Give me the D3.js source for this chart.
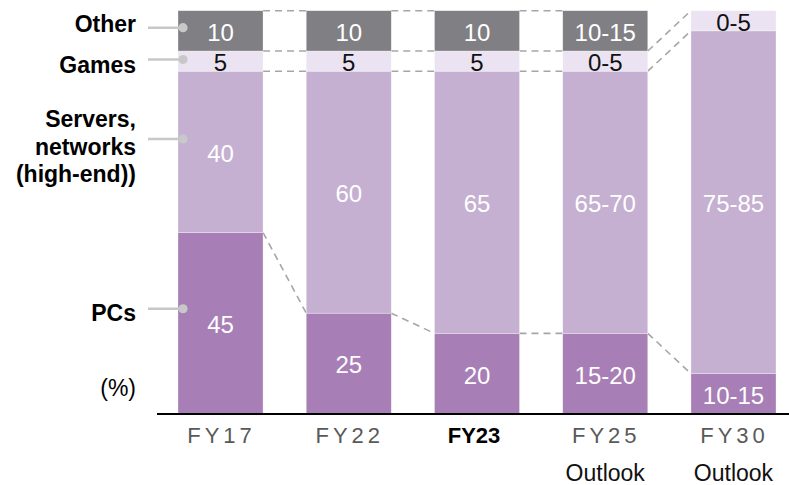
<!DOCTYPE html>
<html>
<head>
<meta charset="utf-8">
<script src="https://cdn.jsdelivr.net/npm/d3@7/dist/d3.min.js"></script>
<style>
  html, body { margin: 0; padding: 0; background: #fff; }
  svg { display: block; font-family: "Liberation Sans", Arial, Helvetica, sans-serif; }
</style>
</head>
<body>
<svg id="chart" width="789" height="485"></svg>
<script>
// ---- data ----
const categories = ["FY17", "FY22", "FY23", "FY25", "FY30"];
const subLabels = ["", "", "", "Outlook", "Outlook"];
const seriesNames = ["PCs", "Servers", "Games", "Other"];
const pcsValues = [45, 25, 20, 20, 10];
const serversValues = [40, 60, 65, 65, 85];
const gamesValues = [5, 5, 5, 5, 5];
const otherValues = [10, 10, 10, 10, 0];
const pcsLabels = ["45", "25", "20", "15-20", "10-15"];
const serversLabels = ["40", "60", "65", "65-70", "75-85"];
const gamesLabels = ["5", "5", "5", "0-5", "0-5"];
const otherLabels = ["10", "10", "10", "10-15", ""];
const legendLabels = [["PCs"], ["Servers,", "networks", "(high-end))"], ["Games"], ["Other"]];
const unitLabel = "(%)";
const highlightCategory = "FY23";

// ---- setup ----
const svg = d3.select("#chart");
const W = 789, H = 485;
const baseY = 414, topY = 10.7;
const colors = { PCs: "#a77eb5", Servers: "#c5b0d2", Games: "#ebe3f1", Other: "#808084" };
const textColors = { PCs: "#fff", Servers: "#fff", Games: "#111", Other: "#fff" };

const valuesBy = { PCs: pcsValues, Servers: serversValues, Games: gamesValues, Other: otherValues };
const labelsBy = { PCs: pcsLabels, Servers: serversLabels, Games: gamesLabels, Other: otherLabels };

const rows = categories.map((c, i) => {
  const r = { cat: c };
  seriesNames.forEach(s => r[s] = valuesBy[s][i]);
  return r;
});
const stacked = d3.stack().keys(seriesNames)(rows);

const x = d3.scaleBand().domain(categories).range([178, 776]).paddingInner(0.337).paddingOuter(0);
const y = d3.scaleLinear().domain([0, 100]).range([baseY, topY]);
const bw = x.bandwidth();

// ---- connectors ----
const conn = svg.append("g");
stacked.forEach(layer => {
  const key = layer.key;
  for (let i = 0; i < categories.length - 1; i++) {
    const a = layer[i], b = layer[i + 1];
    if (valuesBy[key][i] <= 0 || valuesBy[key][i + 1] <= 0) continue;
    conn.append("line")
      .attr("x1", x(categories[i]) + bw)
      .attr("y1", y(a[1]))
      .attr("x2", x(categories[i + 1]))
      .attr("y2", y(b[1]))
      .attr("stroke", "#a6a6a6")
      .attr("stroke-width", 1.6)
      .attr("stroke-dasharray", "7,5");
  }
});

// ---- bars ----
const gBars = svg.append("g");
stacked.forEach(layer => {
  const key = layer.key;
  gBars.selectAll(null)
    .data(layer.filter((d, i) => valuesBy[key][i] > 0))
    .join("rect")
    .attr("x", d => x(d.data.cat))
    .attr("y", d => y(d[1]))
    .attr("width", bw)
    .attr("height", d => y(d[0]) - y(d[1]))
    .attr("fill", colors[key])
    .attr("stroke", "#ffffff")
    .attr("stroke-opacity", 0.5)
    .attr("stroke-width", 0.6);
});

// ---- value labels ----
stacked.forEach(layer => {
  const key = layer.key;
  layer.forEach((d, i) => {
    const lab = labelsBy[key][i];
    if (!lab) return;
    svg.append("text")
      .attr("x", x(d.data.cat) + bw / 2)
      .attr("y", (y(d[0]) + y(d[1])) / 2 + 1.5)
      .attr("dy", "0.35em")
      .attr("text-anchor", "middle")
      .attr("font-size", 24)
      .attr("fill", textColors[key])
      .text(lab);
  });
});

// ---- legend labels on the left ----
const firstCat = categories[0];
const labelNudge = { PCs: 4, Servers: 8, Games: 5, Other: -4 };
seriesNames.forEach((s, k) => {
  const layer = stacked[k];
  const d = layer[0];
  const dotY = y(d[0] + (d[1] - d[0]) * 0.58);
  const dotX = x(firstCat) + 5;
  svg.append("line")
    .attr("x1", 148).attr("x2", dotX)
    .attr("y1", dotY).attr("y2", dotY)
    .attr("stroke", "#c8c8c8").attr("stroke-width", 2.5);
  svg.append("circle")
    .attr("cx", dotX).attr("cy", dotY).attr("r", 4.6)
    .attr("fill", "#c8c8c8");
  const lines = legendLabels[k];
  const lh = 27.5;
  const cy = dotY + labelNudge[s];
  const t = svg.append("text")
    .attr("x", 136)
    .attr("text-anchor", "end")
    .attr("font-size", 23)
    .attr("font-weight", "bold")
    .attr("fill", "#000");
  lines.forEach((ln, j) => {
    t.append("tspan")
      .attr("x", 136)
      .attr("y", cy + (j - (lines.length - 1) / 2) * lh)
      .attr("dy", "0.35em")
      .text(ln);
  });
});

svg.append("text")
  .attr("x", 136).attr("y", 396)
  .attr("text-anchor", "end")
  .attr("font-size", 23)
  .attr("fill", "#000")
  .text(unitLabel);

// ---- axis baseline ----
svg.append("line")
  .attr("x1", 157).attr("x2", W)
  .attr("y1", baseY).attr("y2", baseY)
  .attr("stroke", "#000").attr("stroke-width", 2.2);

// ---- category labels ----
const xAxis = d3.axisBottom(x).tickSize(0).tickPadding(0);
const gx = svg.append("g").attr("transform", `translate(0,${baseY})`).call(xAxis);
gx.select(".domain").remove();
gx.selectAll(".tick text")
  .attr("y", 29)
  .attr("dy", 0)
  .attr("font-family", "Liberation Sans, Arial, sans-serif")
  .attr("font-size", 22)
  .each(function (c) {
    const sel = d3.select(this);
    if (c === highlightCategory) {
      sel.attr("font-weight", "bold").attr("fill", "#000").attr("letter-spacing", 0).attr("dx", -3);
    } else {
      sel.attr("fill", "#595959").attr("letter-spacing", 4).attr("dx", 1);
    }
  });

categories.forEach((c, i) => {
  if (!subLabels[i]) return;
  svg.append("text")
    .attr("x", x(c) + bw / 2)
    .attr("y", 481)
    .attr("text-anchor", "middle")
    .attr("font-size", 23)
    .attr("fill", "#111")
    .text(subLabels[i]);
});
</script>
</body>
</html>
